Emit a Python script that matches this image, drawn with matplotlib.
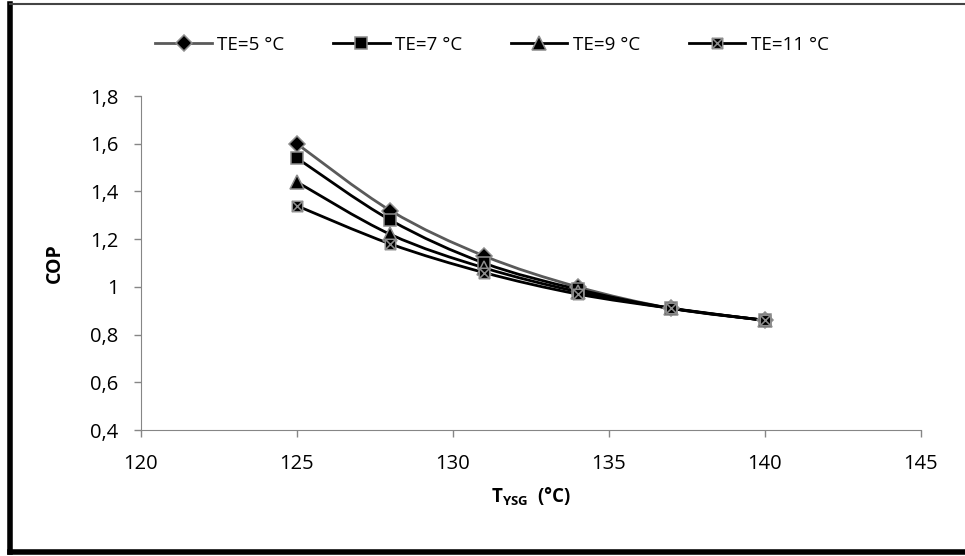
import numpy as np
import matplotlib
matplotlib.use("Agg")
import matplotlib.pyplot as plt
from matplotlib.path import Path
from matplotlib.patches import PathPatch
from matplotlib.lines import Line2D

plt.rcParams['font.family'] = ['Open Sans', 'DejaVu Sans']
plt.rcParams['mathtext.fontset'] = 'custom'
plt.rcParams['mathtext.rm'] = 'Open Sans'
plt.rcParams['mathtext.bf'] = 'Open Sans:bold'

# generator temperature (°C) and COP for each evaporator temperature
t_ysg = [125, 128, 131, 134, 137, 140]
cop_te5 = [1.60, 1.32, 1.13, 1.00, 0.91, 0.86]
cop_te7 = [1.54, 1.28, 1.10, 0.99, 0.91, 0.86]
cop_te9 = [1.44, 1.22, 1.08, 0.98, 0.91, 0.86]
cop_te11 = [1.34, 1.18, 1.06, 0.97, 0.91, 0.86]
labels = ['TE=5 °C', 'TE=7 °C', 'TE=9 °C', 'TE=11 °C']

# square with a cross through it
xbox = Path([(-1, -1), (1, -1), (1, 1), (-1, 1), (-1, -1),
             (-1, -1), (1, 1), (-1, 1), (1, -1)],
            [Path.MOVETO, Path.LINETO, Path.LINETO, Path.LINETO, Path.CLOSEPOLY,
             Path.MOVETO, Path.LINETO, Path.MOVETO, Path.LINETO])

series = [
    (cop_te5, 'D', 8, '#5a5a5a'),
    (cop_te7, 's', 8.5, 'black'),
    (cop_te9, '^', 9.5, 'black'),
    (cop_te11, xbox, 7.5, 'black'),
]


def smooth_path(x, y, t=1/6):
    # cubic bezier through the points (catmull-rom tangents), like a smoothed line
    x = np.asarray(x, float)
    y = np.asarray(y, float)
    n = len(x)
    verts = [(x[0], y[0])]
    codes = [Path.MOVETO]
    for i in range(n - 1):
        p0 = i - 1 if i > 0 else i
        p3 = i + 2 if i + 2 < n else i + 1
        c1 = (x[i] + (x[i + 1] - x[p0]) * t, y[i] + (y[i + 1] - y[p0]) * t)
        c2 = (x[i + 1] - (x[p3] - x[i]) * t, y[i + 1] - (y[p3] - y[i]) * t)
        verts += [c1, c2, (x[i + 1], y[i + 1])]
        codes += [Path.CURVE4] * 3
    return Path(verts, codes)


fig = plt.figure(figsize=(9.65, 5.56), dpi=100)
ax = fig.add_axes([0.146, 0.2266, 0.808, 0.6007])

handles = []
for (vals, mk, ms, lc), lab in zip(series, labels):
    ax.add_patch(PathPatch(smooth_path(t_ysg, vals), fill=False, edgecolor=lc,
                           lw=2.0, zorder=2))
    ax.plot(t_ysg, vals, ls='none', marker=mk, ms=ms, mfc='black',
            mec='#8c8c8c', mew=1.1, zorder=3)
    handles.append(Line2D([], [], color=lc, lw=2.0, marker=mk, ms=ms,
                          mfc='black', mec='#8c8c8c', mew=1.1, label=lab))

ax.set_xlim(120, 145)
ax.set_ylim(0.4, 1.8)
ax.set_xticks([120, 125, 130, 135, 140, 145])
ax.set_yticks([0.4, 0.6, 0.8, 1.0, 1.2, 1.4, 1.6, 1.8])
ax.set_yticklabels(['0,4', '0,6', '0,8', '1', '1,2', '1,4', '1,6', '1,8'])
ax.tick_params(labelsize=14.5, color='#868686', length=5, width=1)
ax.tick_params(axis='x', pad=12)
ax.tick_params(axis='y', pad=11)
for s in ['top', 'right']:
    ax.spines[s].set_visible(False)
for s in ['left', 'bottom']:
    ax.spines[s].set_color('#868686')

ax.set_ylabel('COP', fontsize=14, fontweight='bold', labelpad=18)
ax.set_xlabel(r'$\mathbf{T_{YSG}}$  (°C)', fontsize=13.5, fontweight='bold', labelpad=9)

fig.legend(handles=handles, loc='center', bbox_to_anchor=(0.51, 0.919), ncol=4,
           frameon=False, fontsize=13.5, handlelength=3.0, columnspacing=2.6,
           handletextpad=0.3)

# outer frame round the whole chart
frame_kw = dict(color='black', transform=fig.transFigure, clip_on=False)
fig.add_artist(Line2D([0.0104, 0.0104], [0.008, 0.992], lw=4, **frame_kw))
fig.add_artist(Line2D([0.0104, 1.0], [0.008, 0.008], lw=4, **frame_kw))
fig.add_artist(Line2D([0.0104, 1.0], [0.992, 0.992], lw=1.5, color='#444444',
                      transform=fig.transFigure, clip_on=False))

fig.savefig('out.png', dpi=100)
